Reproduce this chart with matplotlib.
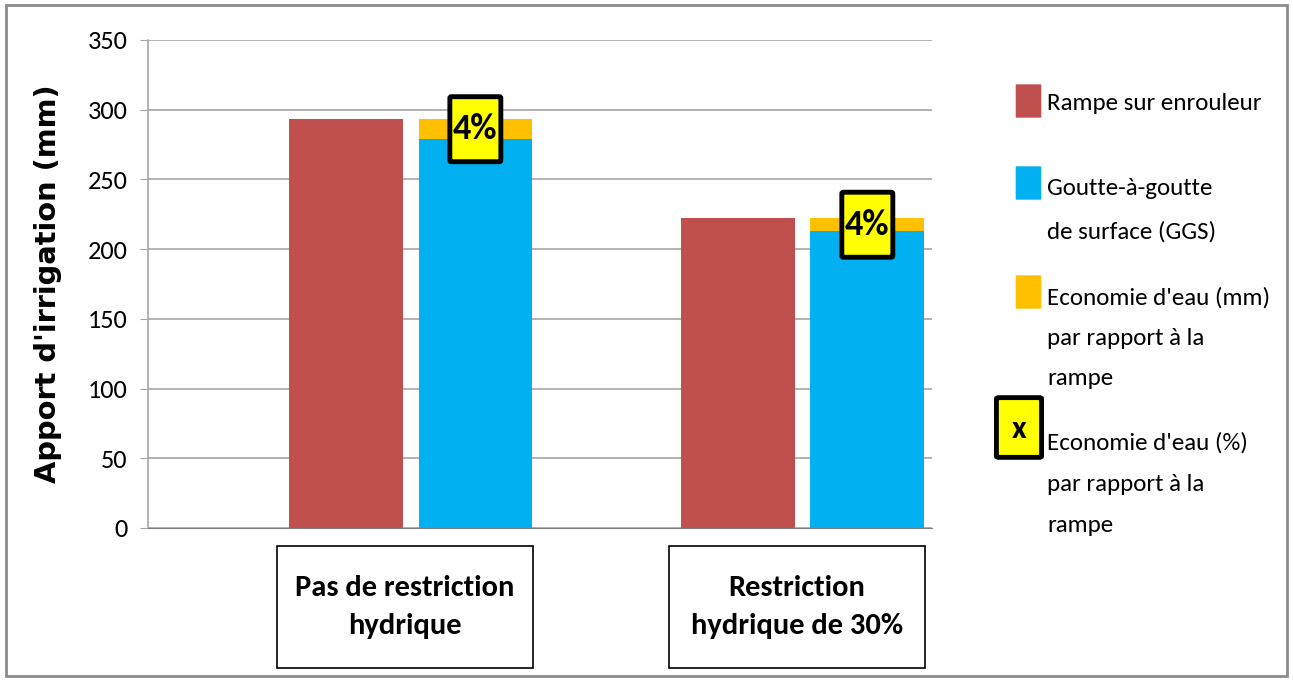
import matplotlib
matplotlib.use("Agg")
import matplotlib.pyplot as plt
import matplotlib.transforms as mtransforms
from matplotlib.patches import FancyBboxPatch, Rectangle
import numpy as np

categories = ["Pas de restriction\nhydrique", "Restriction\nhydrique de 30%"]
rampe = [293, 222]
ggs = [279, 213]
economie_mm = [14, 9]
economie_pct = ["4%", "4%"]
yticks = [0, 50, 100, 150, 200, 250, 300, 350]
legend_labels = ["Rampe sur enrouleur", "Goutte-à-goutte\nde surface (GGS)",
                 "Economie d'eau (mm)\npar rapport à la\nrampe",
                 "Economie d'eau (%)\npar rapport à la\nrampe"]

c_red = "#C0504D"
c_blue = "#00B0F0"
c_orange = "#FFC000"
c_yellow = "#FFFF00"

FONT = ["Carlito", "DejaVu Sans"]

fig = plt.figure(figsize=(12.93, 6.81), dpi=100)
fig.patches.append(Rectangle((0.005, 0.007), 0.99, 0.985, transform=fig.transFigure,
                             fill=False, edgecolor="#8C8C8C", linewidth=2))
ax = fig.add_axes([0.1145, 0.2247, 0.6063, 0.7166])

x = np.arange(len(categories))
w = 0.29
off = 0.33
ax.bar(x + 0.005, rampe, width=w, color=c_red, zorder=3)
ax.bar(x + off + 0.005, ggs, width=w, color=c_blue, zorder=3)
ax.bar(x + off + 0.005, economie_mm, width=w, bottom=ggs, color=c_orange, zorder=3)

ax.set_xlim(-0.5, 1.5)
ax.set_ylim(0, 350)
ax.set_yticks(yticks)
ax.set_xticks([])
ax.yaxis.grid(True, color="#A6A6A6", linewidth=1.2, zorder=0)
for s in ["top", "right"]:
    ax.spines[s].set_visible(False)
ax.spines["left"].set_color("#A6A6A6")
ax.spines["bottom"].set_color("#7F7F7F")
ax.spines["left"].set_linewidth(1.2)
ax.tick_params(axis="y", length=6, color="#A6A6A6", pad=9)
for lab in ax.get_yticklabels():
    lab.set_fontfamily(FONT)
    lab.set_fontsize(19)

ax.set_ylabel("Apport d'irrigation (mm)", fontsize=20.8, fontweight="bold",
              family="DejaVu Sans", labelpad=18)

# percentage boxes
for i in range(len(categories)):
    xd = x[i] + off + 0.005
    yd = ggs[i] + economie_mm[i] / 2
    tr = fig.dpi_scale_trans + mtransforms.ScaledTranslation(xd, yd, ax.transData)
    box = FancyBboxPatch((-0.24, -0.31), 0.48, 0.62, boxstyle="round,pad=0.015",
                         transform=tr, facecolor=c_yellow, edgecolor="black",
                         linewidth=3.5, zorder=5, clip_on=False)
    ax.add_patch(box)
    ax.text(xd, yd, economie_pct[i], ha="center", va="center", fontsize=26,
            fontweight="bold", family=FONT, zorder=6)

# category boxes
for i, cat in enumerate(categories):
    xd = x[i] + 0.155
    base = mtransforms.blended_transform_factory(ax.transData, ax.transAxes)
    tr = fig.dpi_scale_trans + mtransforms.ScaledTranslation(xd, 0, base)
    rect = Rectangle((-1.28, -1.40), 2.56, 1.22, transform=tr, facecolor="white",
                     edgecolor="black", linewidth=1.2, clip_on=False)
    ax.add_patch(rect)
    ax.text(0, -0.79, cat, transform=tr, ha="center", va="center", fontsize=22,
            fontweight="bold", family=FONT, linespacing=1.55)

# legend
sq_w = 23 / 1293
sq_h = 32 / 681
def fy(p):
    return 1 - p / 681
fig.patches.append(FancyBboxPatch((1017 / 1293, fy(117)), sq_w, sq_h, boxstyle="round,pad=0.001",
                                  transform=fig.transFigure, facecolor=c_red, edgecolor="none"))
fig.patches.append(FancyBboxPatch((1017 / 1293, fy(199)), sq_w, sq_h, boxstyle="round,pad=0.001",
                                  transform=fig.transFigure, facecolor=c_blue, edgecolor="none"))
fig.patches.append(FancyBboxPatch((1017 / 1293, fy(308)), sq_w, sq_h, boxstyle="round,pad=0.001",
                                  transform=fig.transFigure, facecolor=c_orange, edgecolor="none"))
fig.patches.append(FancyBboxPatch((999 / 1293, fy(456)), 40 / 1293, 57 / 681, boxstyle="round,pad=0.002",
                                  transform=fig.transFigure, facecolor=c_yellow, edgecolor="black",
                                  linewidth=3.5))
fig.text(1019 / 1293, fy(429), "x", fontsize=23, fontweight="bold", family=FONT,
         ha="center", va="center")

tx = 1047 / 1293
LS = 18
fig.text(tx, fy(104), legend_labels[0], fontsize=LS, family=FONT, va="center")
fig.text(tx, fy(210), legend_labels[1], fontsize=LS, family=FONT, va="center", linespacing=2.25)
fig.text(tx, fy(338), legend_labels[2], fontsize=LS, family=FONT, va="center", linespacing=2.15)
fig.text(tx, fy(484), legend_labels[3], fontsize=LS, family=FONT, va="center", linespacing=2.2)

fig.savefig("out.png", dpi=100, facecolor="white")
